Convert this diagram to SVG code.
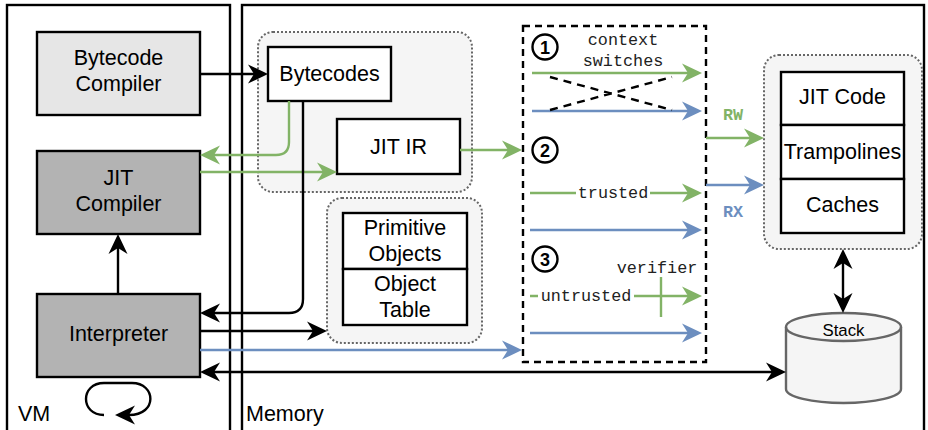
<svg xmlns="http://www.w3.org/2000/svg" width="928" height="430" viewBox="0 0 928 430">
<style>
.frame{fill:#fff;stroke:#000;stroke-width:2.4}
.grp{fill:#f5f5f5;stroke:#666;stroke-width:2;stroke-dasharray:2 2}
.box{stroke:#000;stroke-width:2.4}
.lbl{font-family:"Liberation Sans",Arial,sans-serif;font-size:21.5px;fill:#000;text-anchor:middle}
.mono{font-family:"Liberation Mono","Courier New",monospace;font-size:16.8px;fill:#222;text-anchor:middle}
.num{font-family:"Liberation Sans",Arial,sans-serif;font-size:18px;font-weight:bold;fill:#000;text-anchor:middle}
.k{fill:none;stroke:#000;stroke-width:2.4}
.g{fill:none;stroke:#82b366;stroke-width:2.4}
.b{fill:none;stroke:#6c8ebf;stroke-width:2.4}
</style>
<defs>
<marker id="ak" markerUnits="userSpaceOnUse" markerWidth="24" markerHeight="24" viewBox="-8 -12 24 24" refX="0" refY="0" orient="auto-start-reverse"><path d="M14,0 L-6,-9.5 L0,0 L-6,9.5 Z" fill="#000"/></marker>
<marker id="ag" markerUnits="userSpaceOnUse" markerWidth="24" markerHeight="24" viewBox="-8 -12 24 24" refX="0" refY="0" orient="auto-start-reverse"><path d="M14,0 L-6,-9.5 L0,0 L-6,9.5 Z" fill="#82b366"/></marker>
<marker id="ab" markerUnits="userSpaceOnUse" markerWidth="24" markerHeight="24" viewBox="-8 -12 24 24" refX="0" refY="0" orient="auto-start-reverse"><path d="M14,0 L-6,-9.5 L0,0 L-6,9.5 Z" fill="#6c8ebf"/></marker>
</defs>
<rect width="928" height="430" fill="#fff"/>
<g id="vm">
<rect class="frame" x="7" y="5" width="223" height="440"/>
<text class="lbl" x="18" y="421" style="text-anchor:start">VM</text>
</g>
<g id="memory">
<rect class="frame" x="242" y="5" width="682" height="440"/>
<text class="lbl" x="246" y="421" style="text-anchor:start">Memory</text>
</g>
<g id="code-group"><rect class="grp" x="258" y="32" width="214" height="160" rx="15"/></g>
<g id="object-group"><rect class="grp" x="327" y="198" width="155" height="145" rx="15"/></g>
<g id="jit-group"><rect class="grp" x="764" y="55" width="158" height="194" rx="15"/></g>
<g id="bytecode-compiler">
<rect class="box" x="37" y="32" width="163" height="83" fill="#e6e6e6"/>
<text class="lbl" x="118.5" y="65">Bytecode</text>
<text class="lbl" x="118.5" y="91">Compiler</text>
</g>
<g id="jit-compiler">
<rect class="box" x="37" y="151" width="163" height="83" fill="#b3b3b3"/>
<text class="lbl" x="118.5" y="185">JIT</text>
<text class="lbl" x="118.5" y="211">Compiler</text>
</g>
<g id="interpreter">
<rect class="box" x="37" y="294" width="163" height="83" fill="#b3b3b3"/>
<text class="lbl" x="118.5" y="341">Interpreter</text>
</g>
<g id="bytecodes">
<rect class="box" x="268" y="47" width="123" height="54" fill="#fff"/>
<text class="lbl" x="329.5" y="81">Bytecodes</text>
</g>
<g id="jit-ir">
<rect class="box" x="337" y="119" width="123" height="55" fill="#fff"/>
<text class="lbl" x="398.5" y="154">JIT IR</text>
</g>
<g id="primitive-objects">
<rect class="box" x="343" y="213" width="124" height="56" fill="#fff"/>
<text class="lbl" x="405" y="235">Primitive</text>
<text class="lbl" x="405" y="261">Objects</text>
</g>
<g id="object-table">
<rect class="box" x="343" y="269" width="124" height="56" fill="#fff"/>
<text class="lbl" x="405" y="291">Object</text>
<text class="lbl" x="405" y="317">Table</text>
</g>
<g id="jit-code">
<rect class="box" x="781" y="72" width="123" height="53" fill="#fff"/>
<text class="lbl" x="842.5" y="104">JIT Code</text>
</g>
<g id="trampolines">
<rect class="box" x="781" y="125" width="123" height="54" fill="#fff"/>
<text class="lbl" x="842.5" y="159">Trampolines</text>
</g>
<g id="caches">
<rect class="box" x="781" y="179" width="123" height="54" fill="#fff"/>
<text class="lbl" x="842.5" y="212">Caches</text>
</g>
<g id="stack">
<path d="M786,327 A57.5,14 0 0 1 901,327 V389 A57.5,14 0 0 1 786,389 Z" fill="#f5f5f5" stroke="#666" stroke-width="2.4"/>
<path d="M786,327 A57.5,14 0 0 0 901,327" fill="none" stroke="#666" stroke-width="2.4"/>
<text x="843.5" y="336" style="font-family:'Liberation Sans',Arial,sans-serif;font-size:16.8px;text-anchor:middle">Stack</text>
</g>
<g id="transitions">
<rect x="523" y="26" width="183" height="336" fill="none" stroke="#000" stroke-width="2.4" stroke-dasharray="7 5"/>
<circle cx="545" cy="47" r="12.5" fill="#fff" stroke="#000" stroke-width="2.4"/>
<text class="num" x="545" y="53.5">1</text>
<circle cx="545" cy="150" r="12.5" fill="#fff" stroke="#000" stroke-width="2.4"/>
<text class="num" x="545" y="156.5">2</text>
<circle cx="545" cy="259" r="12.5" fill="#fff" stroke="#000" stroke-width="2.4"/>
<text class="num" x="545" y="265.5">3</text>
<text class="mono" x="623" y="45">context</text>
<text class="mono" x="623" y="66">switches</text>
<text class="mono" x="657" y="273">verifier</text>
</g>
<g id="connectors">
<path class="k" d="M200,74 H254" marker-end="url(#ak)"/>
<path class="g" d="M289,101 V142 Q289,155 276,155 H214" marker-end="url(#ag)"/>
<path class="g" d="M200,172 H323" marker-end="url(#ag)"/>
<path class="g" d="M460,150 H508" marker-end="url(#ag)"/>
<path class="k" d="M303,101 V299 Q303,313 289,313 H214" marker-end="url(#ak)"/>
<path class="k" d="M200,331 H313" marker-end="url(#ak)"/>
<path class="b" d="M200,350 H508" marker-end="url(#ab)"/>
<path class="k" d="M214,372 H772" marker-start="url(#ak)" marker-end="url(#ak)"/>
<path class="k" d="M118,294 V248" marker-end="url(#ak)"/>
<path class="k" d="M104,415 C80,415 80,383 104,383 L132,383 C156,383 158,415 129,415" marker-end="url(#ak)"/>
<path class="k" d="M843,263 V299" marker-start="url(#ak)" marker-end="url(#ak)"/>
<path class="g" d="M706,138 H750" marker-end="url(#ag)"/>
<text x="733" y="120" style="font-family:'Liberation Mono','Courier New',monospace;font-size:16.8px;font-weight:bold;fill:#82b366;text-anchor:middle">RW</text>
<path class="b" d="M706,185 H750" marker-end="url(#ab)"/>
<text x="733" y="217" style="font-family:'Liberation Mono','Courier New',monospace;font-size:16.8px;font-weight:bold;fill:#6c8ebf;text-anchor:middle">RX</text>
<path class="g" d="M532,73 H688" marker-end="url(#ag)"/>
<path class="b" d="M532,111 H688" marker-end="url(#ab)"/>
<path d="M550,77 L672,110 M550,110 L672,77" fill="none" stroke="#000" stroke-width="2.4" stroke-dasharray="8 6"/>
<path class="g" d="M530,193 H688" marker-end="url(#ag)"/>
<rect x="576" y="185" width="74" height="16" fill="#fff"/>
<text class="mono" x="613" y="198">trusted</text>
<path class="b" d="M530,230 H688" marker-end="url(#ab)"/>
<path class="g" d="M530,296 H688" marker-end="url(#ag)"/>
<rect x="538" y="288" width="96" height="16" fill="#fff"/>
<text class="mono" x="586" y="301">untrusted</text>
<path class="g" d="M661,277 V317"/>
<path class="b" d="M530,333 H688" marker-end="url(#ab)"/>
</g>
</svg>
